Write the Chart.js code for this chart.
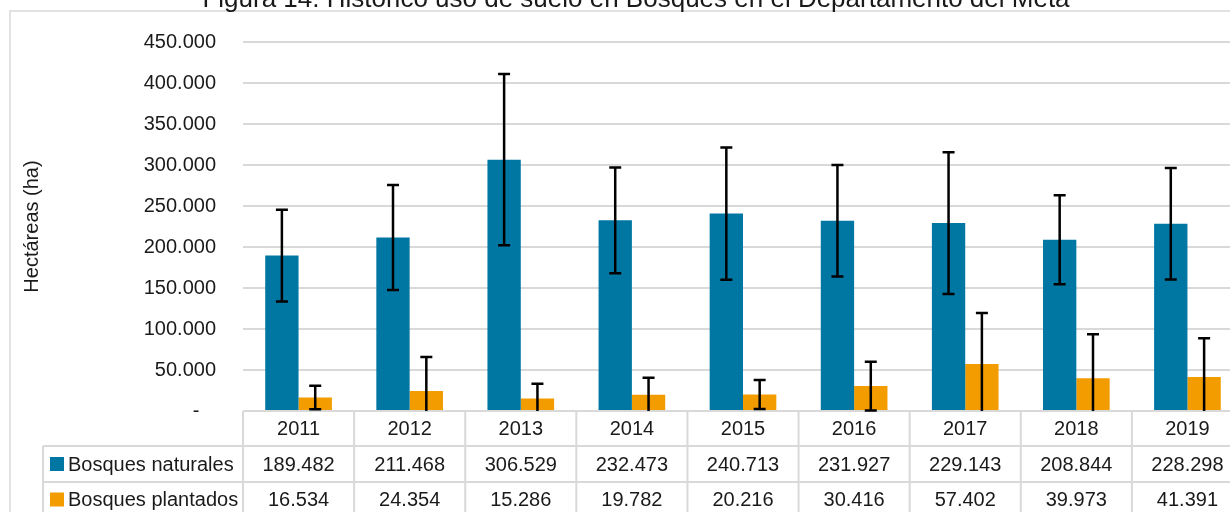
<!DOCTYPE html>
<html lang="es">
<head>
<meta charset="UTF-8">
<title>Histórico uso de suelo en Bosques - Meta</title>
<script src="https://cdn.jsdelivr.net/npm/chart.js@4.4.0/dist/chart.umd.min.js"></script>
<style>
    body { margin: 0; overflow: hidden; background: #fff; }
    #caja { position: relative; width: 1245px; height: 525px; }
</style>
</head>
<body>
<div id="caja"><canvas id="grafico" width="1245" height="525"></canvas></div>

<script>
    // datos
    const anios = ['2011', '2012', '2013', '2014', '2015', '2016', '2017', '2018', '2019'];
    const series = ['Bosques naturales', 'Bosques plantados'];
    const naturales = [189482, 211468, 306529, 232473, 240713, 231927, 229143, 208844, 228298];
    const plantados = [16534, 24354, 15286, 19782, 20216, 30416, 57402, 39973, 41391];
    // barras de error (estimadas del dibujo)
    const errNaturales = [56000, 64000, 104500, 64400, 80500, 68000, 86400, 54300, 68000];
    const errPlantados = [14300, 41500, 18000, 20800, 17700, 29700, 62000, 53500, 47300];
    const marcasY = [0, 50000, 100000, 150000, 200000, 250000, 300000, 350000, 400000, 450000];

    const titulo = 'Figura 14. Histórico uso de suelo en Bosques en el Departamento del Meta';
    const colores = ['#0077A3', '#F29C00'];
    const gris = '#d9d9d9';
    const texto = '#1a1a1a';

    Chart.defaults.font.family = "'Liberation Sans', Arial, sans-serif";
    Chart.defaults.font.size = 20;
    Chart.defaults.color = texto;

    function formato(v) {
        if (v === 0) return '-   ';
        return String(v).replace(/\B(?=(\d{3})+(?!\d))/g, '.');
    }

    // marco exterior y titulo (cortado arriba como en la imagen)
    const marco = {
        id: 'marco',
        beforeDraw(chart) {
            const ctx = chart.ctx;
            ctx.save();
            ctx.strokeStyle = gris;
            ctx.lineWidth = 1.5;
            ctx.beginPath();
            ctx.moveTo(10, chart.height);
            ctx.lineTo(10, 11);
            ctx.lineTo(chart.width, 11);
            ctx.stroke();
            ctx.fillStyle = texto;
            ctx.font = "26px 'Liberation Sans', Arial, sans-serif";
            ctx.textAlign = 'center';
            ctx.textBaseline = 'alphabetic';
            ctx.fillText(titulo, 636, 7);
            ctx.restore();
        }
    };

    const barrasError = {
        id: 'barrasError',
        afterDatasetsDraw(chart) {
            const ctx = chart.ctx;
            const y = chart.scales.y;
            const errores = [errNaturales, errPlantados];
            ctx.save();
            ctx.strokeStyle = '#000';
            ctx.lineWidth = 2.5;
            chart.data.datasets.forEach((ds, d) => {
                const meta = chart.getDatasetMeta(d);
                meta.data.forEach((bar, i) => {
                    const v = ds.data[i];
                    const e = errores[d][i];
                    const yArr = y.getPixelForValue(v + e);
                    const bajo = v - e;
                    const yAba = y.getPixelForValue(Math.max(bajo, 0));
                    ctx.beginPath();
                    ctx.moveTo(bar.x, yArr);
                    ctx.lineTo(bar.x, yAba);
                    ctx.moveTo(bar.x - 6, yArr);
                    ctx.lineTo(bar.x + 6, yArr);
                    if (bajo > 0) {
                        ctx.moveTo(bar.x - 6, yAba);
                        ctx.lineTo(bar.x + 6, yAba);
                    }
                    ctx.stroke();
                });
            });
            ctx.restore();
        }
    };

    // tabla de datos debajo del eje
    const tablaDatos = {
        id: 'tablaDatos',
        afterDraw(chart) {
            const ctx = chart.ctx;
            const x = chart.scales.x;
            const n = anios.length;
            const colW = (x.right - x.left) / n;
            const y0 = chart.chartArea.bottom;
            const filas = [y0, y0 + 35, y0 + 71, y0 + 106];
            const izq = 43;
            const valores = [naturales, plantados];

            ctx.save();
            ctx.strokeStyle = gris;
            ctx.lineWidth = 2;
            ctx.beginPath();
            for (let f = 1; f < filas.length; f++) {
                ctx.moveTo(izq, filas[f]);
                ctx.lineTo(x.right, filas[f]);
            }
            for (let i = 0; i <= n; i++) {
                const px = x.left + i * colW;
                ctx.moveTo(px, y0);
                ctx.lineTo(px, filas[3]);
            }
            ctx.moveTo(izq, filas[1]);
            ctx.lineTo(izq, filas[3]);
            ctx.stroke();

            ctx.fillStyle = texto;
            ctx.font = "20px 'Liberation Sans', Arial, sans-serif";
            ctx.textBaseline = 'middle';
            ctx.textAlign = 'center';
            anios.forEach((a, i) => {
                const cx = x.getPixelForValue(i);
                ctx.fillText(a, cx, (filas[0] + filas[1]) / 2 + 1);
                valores.forEach((serie, s) => {
                    ctx.fillText(formato(serie[i]), cx, (filas[s + 1] + filas[s + 2]) / 2 + 1);
                });
            });

            ctx.textAlign = 'left';
            series.forEach((nombre, s) => {
                const cy = (filas[s + 1] + filas[s + 2]) / 2;
                ctx.fillStyle = colores[s];
                ctx.fillRect(50, cy - 7, 14, 14);
                ctx.fillStyle = texto;
                ctx.fillText(nombre, 68, cy + 1);
            });
            ctx.restore();
        }
    };

    const ctx = document.getElementById('grafico').getContext('2d');
    const grafico = new Chart(ctx, {
        type: 'bar',
        data: {
            labels: anios,
            datasets: [{
                label: series[0],
                data: naturales,
                backgroundColor: colores[0],
                barPercentage: 1,
                categoryPercentage: 0.6
            }, {
                label: series[1],
                data: plantados,
                backgroundColor: colores[1],
                barPercentage: 1,
                categoryPercentage: 0.6
            }]
        },
        options: {
            responsive: false,
            animation: false,
            layout: { padding: { top: 42, right: 2, bottom: 114, left: 0 } },
            plugins: {
                legend: { display: false },
                tooltip: { enabled: false }
            },
            scales: {
                x: { display: false, offset: true },
                y: {
                    min: 0,
                    max: 450000,
                    afterBuildTicks(scale) {
                        scale.ticks = marcasY.map(v => ({ value: v }));
                    },
                    afterFit(scale) {
                        scale.width = 243;
                    },
                    ticks: {
                        padding: 27,
                        color: texto,
                        callback: v => formato(v)
                    },
                    grid: { color: gris, lineWidth: 2, drawTicks: false },
                    border: { display: false },
                    title: {
                        display: true,
                        text: 'Hectáreas (ha)',
                        color: texto,
                        font: { size: 20 },
                        padding: { top: 20, bottom: 0 }
                    }
                }
            }
        },
        plugins: [marco, barrasError, tablaDatos]
    });
</script>
</body>
</html>
